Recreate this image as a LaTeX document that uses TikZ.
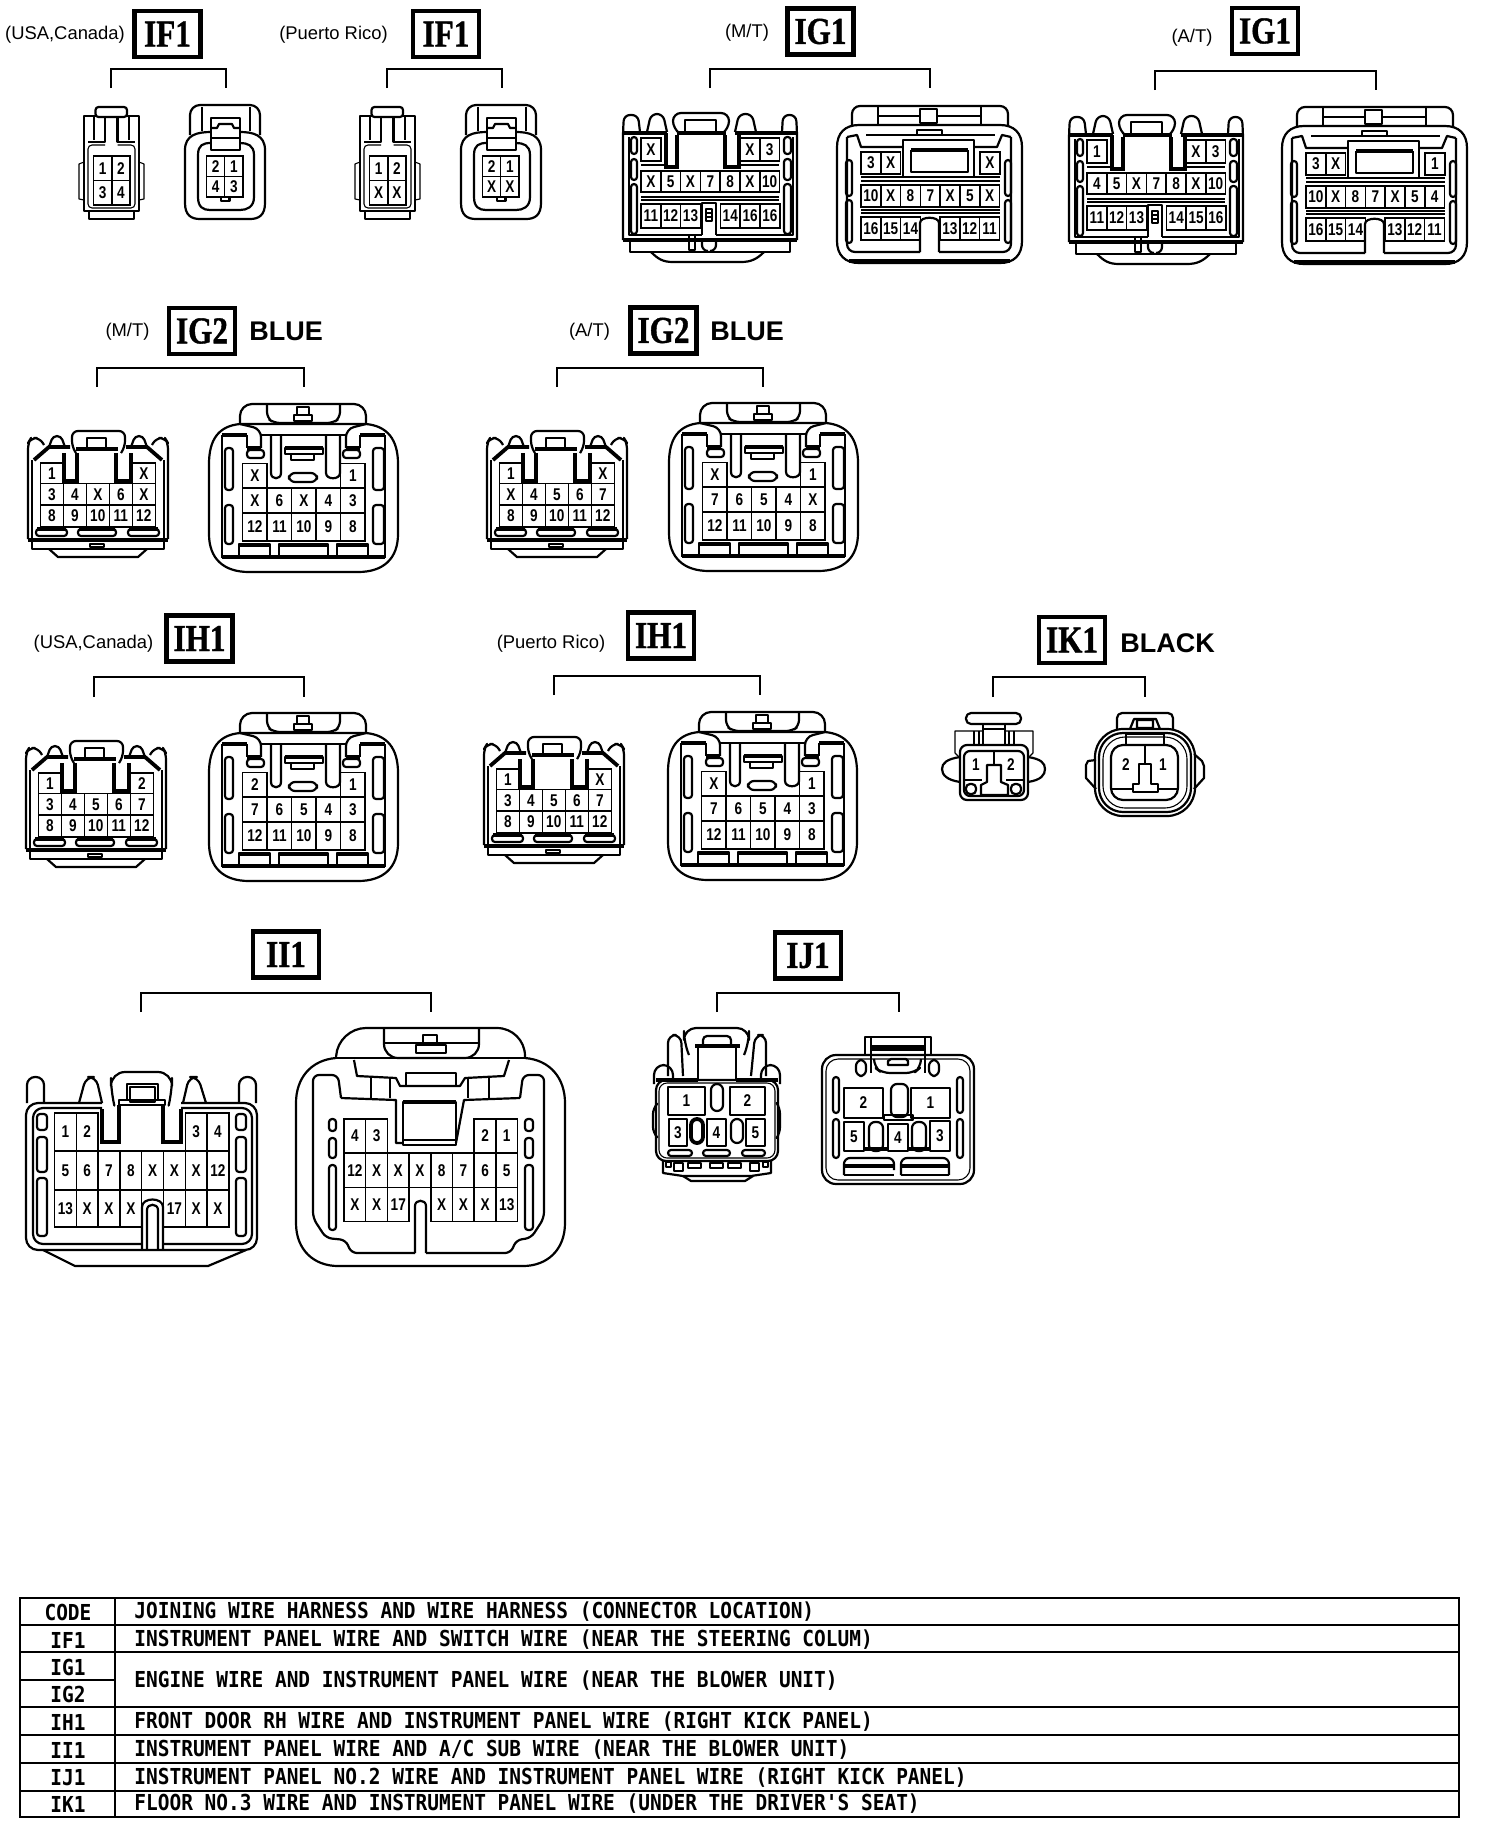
\documentclass[tikz,border=0pt]{standalone}
\usepackage{fontspec}
\setmainfont{Liberation Sans}
\newfontfamily\pinfont[FakeStretch=0.8]{Liberation Sans}
\newfontfamily\codefont[FakeStretch=0.82,FakeBold=1]{Liberation Serif}
\newfontfamily\tabfont[FakeStretch=0.885]{DejaVu Sans Mono}
\newfontfamily\labfont{Liberation Sans}
\tikzset{
 ol/.style={line width=1.1pt,draw=black,line join=round},
 tl/.style={line width=.55pt,draw=black,line join=round},
 hv/.style={line width=1.9pt,draw=black},
 pinline/.style={line width=.75pt,draw=black},
 pintext/.style={inner sep=0pt,font=\pinfont\bfseries\fontsize{8.5}{9}\selectfont},
 codebox/.style={draw=black,line width=2.2pt,minimum width=33pt,minimum height=23pt,inner sep=0pt,
   font=\codefont\bfseries\fontsize{19}{19}\selectfont},
 variant/.style={inner sep=0pt,font=\labfont\fontsize{9.2}{10}\selectfont},
 colour/.style={inner sep=0pt,anchor=west,font=\labfont\bfseries\fontsize{13.5}{14}\selectfont},
 tabtext/.style={inner sep=0pt,font=\tabfont\bfseries\fontsize{11}{12}\selectfont},
 brack/.style={line width=1.1pt,draw=black,line join=miter}
}
\newcount\pinc
\newcommand\pinrow[5]{%
 \foreach \plab [count=\pk from 0] in {#5}{%
  \global\advance\pinc by 1
  \draw[pinline] ({#1+\pk*#3},#2) rectangle ({#1+(\pk+1)*#3},{#2+#4});
  \node[pintext] (pin\the\pinc) at ({#1+(\pk+.5)*#3},{#2+#4/2}) {\plab};
 }}
\newcommand\pincell[5]{% x1 y1 x2 y2 label
  \global\advance\pinc by 1
  \draw[ol] (#1,#2) rectangle (#3,#4);
  \node[pintext] (pin\the\pinc) at ({(#1+#3)/2},{(#2+#4)/2}) {#5};}
\newcommand\pinlbl[3]{%
  \global\advance\pinc by 1
  \node[pintext] (pin\the\pinc) at (#1,#2) {#3};}
\newcommand\slotbox[4]{\draw[ol,rounded corners=1.5pt] (#1,#2) rectangle (#3,#4);}
\newcommand\bracketline[4]{\draw[brack] (#1,#4)--(#1,#2)--(#3,#2)--(#3,#4);}
% ---- IF1 male
\newcommand\connA[4]{\begin{scope}[shift={(#1,#2)}]
 \draw[ol,rounded corners=1.5pt] (16.5,0) rectangle (48,10);
 \draw[ol] (16.5,9)-|(5,104)--(60,104)|-(48,9);
 \draw[ol] (15,9)--(15,33) (50,9)--(50,33);
 \draw[ol] (26,10)--(26,35)--(9,35) (38.5,10)--(38.5,35)--(56,35);
 \draw[tl,rounded corners=2pt] (26,38)-|(9,101)-|(56,38)--(38.5,38);
 \draw[tl] (5,55)--(0,57)--(0,92)--(5,93) (60,55)--(65,57)--(65,92)--(60,93);
 \draw[ol] (10,104)|-(55,112)--(55,104);
 \pinrow{14.6}{49}{18.2}{24.5}{#3}
 \pinrow{14.6}{73.5}{18.2}{24.5}{#4}
\end{scope}}
% ---- IF1 female
\newcommand\connB[4]{\begin{scope}[shift={(#1,#2)}]
 \draw[ol,rounded corners=5pt] (5,30)--(5,0)--(75,0)--(75,30);
 \draw[ol] (17,26)--(17,2) (65,26)--(65,2);
 \draw[ol] (26,27) .. controls (12,27) and (0,30) .. (0,45) -- (0,98) .. controls (0,110) and (6,114) .. (15,114) -- (65,114) .. controls (74,114) and (80,110) .. (80,98) -- (80,45) .. controls (80,30) and (68,27) .. (55,27);
 \draw[ol] (26,38) .. controls (18,38) and (13,40) .. (13,50) -- (13,92) .. controls (13,102) and (18,105) .. (25,105) -- (55,105) .. controls (62,105) and (69,102) .. (69,92) -- (69,50) .. controls (69,40) and (62,38) .. (55,38);
 \draw[ol] (26,13) rectangle (55,45);
 \draw[ol] (26,23)--(32,23)--(34,19)--(47,19)--(49,23)--(55,23);
 \draw[ol] (26,33)--(55,33);
 \pinrow{21.5}{51}{18.2}{20.5}{#3}
 \pinrow{21.5}{71.5}{18.2}{20.5}{#4}
 \draw[ol] (36,92) rectangle (44.5,96);
\end{scope}}
% ---- IG1 male
\newcommand\connC[7]{\begin{scope}[shift={(#1,#2)}]
 \draw[ol,rounded corners=3pt] (0,127)--(0,19)--(1,2)--(15,2)--(17,19);
 \draw[ol,rounded corners=3pt] (24,19)--(28,1)--(40,1)--(44,19);
 \draw[ol,rounded corners=4pt] (56,20)--(50,16)--(50,0)--(106,0)--(106,16)--(100,20);
 \draw[ol] (62,19)--(62,7)--(93,7)--(93,19);
 \draw[hv] (54,20)--(103,20);
 \draw[ol,rounded corners=3pt] (112,19)--(116,1)--(129,1)--(133,19);
 \draw[ol,rounded corners=3pt] (159,19)--(160,2)--(173,2)--(174,19)--(174,127);
 \draw[hv] (0,20)--(44,20) (112,20)--(174,20);
 \draw[ol] (6,24)--(6,122)--(79,122) (93,122)--(170,122)--(170,24);
 \draw[hv] (0,127)--(174,127);
 \slotbox{8}{24}{14}{41}\slotbox{8}{46}{14}{67}\slotbox{8}{71}{14}{121}
 \slotbox{161}{24}{168}{41}\slotbox{161}{46}{168}{67}\slotbox{161}{71}{168}{121}
 \draw[hv] (43,20)--(43,54)--(54,54)--(54,22);
 \draw[hv] (102,22)--(102,54)--(116,54)--(116,20);
 \draw[ol] (79,122)--(79,90)--(93,90)--(93,122);
 \draw[tl] (83,96) rectangle (89,108) (83,100)--(89,100) (83,104)--(89,104);
 \pinrow{18}{25}{19.8}{23}{#3}
 \pinrow{117}{25}{19.8}{23}{#4}
 \pinrow{18}{58}{19.8}{21}{#5}
 \pinrow{18}{91}{19.8}{24}{#6}
 \pinrow{97.4}{91}{19.8}{24}{#7}
 \draw[pinline] (18,52)--(43,52) (117,52)--(156,52) (18,84)--(156,84) (18,87)--(156,87);
 \draw[ol] (7,127)|-(167,139)--(167,127);
 \draw[ol] (28,139) .. controls (35,146) and (40,149) .. (50,149)--(118,149) .. controls (128,149) and (134,146) .. (141,139);
 \draw[ol] (79,127)--(79,132) arc(180:90:6) (93,127)--(93,132) arc(0:90:6);
 \draw[ol] (66,122) rectangle (72,137);
\end{scope}}
% ---- IG1 female
\newcommand\connD[7]{\begin{scope}[shift={(#1,#2)}]
 \draw[ol,rounded corners=4pt] (15,21)--(15,1)--(171,1)--(171,21);
 \draw[ol] (41,2)--(41,20) (144,2)--(144,20) (41,11)--(83,11) (100,11)--(144,11);
 \draw[ol] (83,4) rectangle (100,18);
 \draw[ol] (22,20) .. controls (8,20) and (0,28) .. (0,42) -- (0,136) .. controls (0,150) and (8,158) .. (22,158) -- (163,158) .. controls (177,158) and (185,150) .. (185,136) -- (185,42) .. controls (185,28) and (177,20) .. (163,20) -- cycle;
 \draw[hv] (12,156)--(173,156);
 \draw[ol,rounded corners=4pt] (10,32)--(10,147)--(83,147) (102,147)--(174,147)--(174,32);
 \draw[ol] (10,32)--(20,30)--(24,42)--(66,42) (174,32)--(165,30)--(160,42)--(137,42);
 \draw[ol] (29,30)--(158,30);
 \draw[ol] (66,35)--(66,72)--(137,72)--(137,35)--cycle;
 \draw[hv] (74,45)--(131,45);
 \draw[ol] (74,45)--(74,67)--(131,67)--(131,45);
 \draw[ol] (80,30)--(80,25)--(105,25)--(105,30);
 \slotbox{9}{55}{15}{91}\slotbox{9}{95}{15}{138}
 \slotbox{168}{55}{174}{91}\slotbox{168}{95}{174}{138}
 \pinrow{24}{47}{19.8}{22}{#3}
 \pinrow{143}{47}{19.8}{22}{#4}
 \pinrow{24}{80}{19.8}{22}{#5}
 \pinrow{24}{112}{19.8}{23}{#6}
 \pinrow{103}{112}{19.8}{23}{#7}
 \draw[pinline] (24,72)--(66,72) (137,72)--(163,72) (24,76)--(163,76) (24,105)--(163,105) (24,108)--(163,108);
 \draw[ol] (83,147)--(83,118) .. controls (83,111) and (102,111) .. (102,118) -- (102,147);
\end{scope}}
% ---- IG2/IH1 male
\newcommand\connE[6]{\begin{scope}[shift={(#1,#2)}]
 \draw[ol,rounded corners=3pt] (48,22)--(44,16)--(44,0)--(97,0)--(97,16)--(93,22);
 \draw[ol] (59,17)--(59,7)--(78,7)--(78,17);
 \draw[hv] (48,18)--(90,18);
 \draw[ol,rounded corners=3pt] (0,108)--(0,12)--(3,7)--(12,7)--(16,14);
 \draw[ol,rounded corners=3pt] (140,108)--(140,12)--(137,7)--(128,7)--(124,14);
 \draw[ol,rounded corners=2pt] (21,16)--(25,5)--(33,5)--(37,16);
 \draw[ol,rounded corners=2pt] (103,16)--(107,5)--(115,5)--(119,16);
 \draw[hv] (6,29)--(21,16)--(42,16) (134,29)--(119,16)--(98,16);
 \draw[ol] (4,29)--(4,107) (136,29)--(136,107);
 \draw[hv] (0,109)--(140,109);
 \draw[ol] (4,110)|-(136,118)--(136,110);
 \draw[ol] (21,118)--(30,126)--(110,126)--(119,118);
 \draw[ol] (62,113) rectangle (76,116);
 \draw[hv] (36,22)--(36,50)--(49,50)--(49,22);
 \draw[hv] (88,22)--(88,50)--(103,50)--(103,22);
 \pinrow{12.3}{32}{23}{20.5}{#3}
 \pinrow{104.3}{32}{23}{20.5}{#4}
 \pinrow{12.3}{52.5}{23}{21.5}{#5}
 \pinrow{12.3}{74}{23}{22}{#6}
 \slotbox{8}{98}{39}{105}\slotbox{50}{98}{88}{105}\slotbox{100}{98}{131}{105}
 \draw[hv] (9,98)--(38,98) (51,98)--(87,98) (101,98)--(130,98);
\end{scope}}
% ---- IG2/IH1 female
\newcommand\connF[6]{\begin{scope}[shift={(#1,#2)}]
 \draw[ol,rounded corners=6pt] (31,20)--(31,0)--(157,0)--(157,20);
 \draw[ol,rounded corners=3pt] (58,1)--(58,14)--(65,19)--(124,19)--(131,14)--(131,1);
 \draw[ol] (88,3) rectangle (100,11);
 \draw[ol] (85,11) rectangle (103,17);
 \draw[ol] (31,20) .. controls (10,22) and (0,35) .. (0,60) -- (0,130) .. controls (0,155) and (15,168) .. (40,168) -- (149,168) .. controls (174,168) and (189,155) .. (189,130) -- (189,60) .. controls (189,35) and (178,22) .. (157,20) -- cycle;
 \draw[hv] (13,31)--(38,31) (151,31)--(176,31);
 \draw[ol] (13,31)--(13,154) (176,31)--(176,154);
 \draw[hv] (13,153)--(176,153);
 \draw[ol,rounded corners=4pt] (31,20)--(52,25)--(52,44);
 \draw[ol,rounded corners=4pt] (157,20)--(137,25)--(137,44);
 \draw[ol] (38,31)--(38,44) (151,31)--(151,44) (52,31)--(137,31);
 \draw[hv] (38,44)--(52,44) (137,44)--(151,44);
 \slotbox{38}{46}{55}{54}\slotbox{134}{46}{151}{54}
 \draw[ol] (62,32)--(62,69) .. controls (62,76) and (72,76) .. (72,69) -- (72,32);
 \draw[ol] (117,32)--(117,69) .. controls (117,76) and (131,76) .. (131,69) -- (131,32);
 \draw[ol] (76,44) rectangle (114,50);
 \draw[hv] (76,44)--(114,44);
 \draw[ol] (82,50) rectangle (105,56);
 \draw[ol,rounded corners=3pt] (80,69) rectangle (108,78);
 \slotbox{16}{44}{24}{86}\slotbox{16}{101}{24}{140}
 \slotbox{164}{44}{175}{86}\slotbox{164}{101}{175}{140}
 \pinrow{33.7}{59.3}{24.5}{24.7}{#3}
 \pinrow{131.7}{59.3}{24.5}{24.7}{#4}
 \pinrow{33.7}{84}{24.5}{25}{#5}
 \pinrow{33.7}{109}{24.5}{28}{#6}
 \draw[ol] (30,153)--(30,140)--(61,140)--(61,153) (70,153)--(70,140)--(119,140)--(119,153) (128,153)--(128,140)--(159,140)--(159,153);
 \draw[hv] (30,141)--(61,141) (70,141)--(119,141) (128,141)--(159,141);
\end{scope}}
% ---- IK1 male
\newcommand\connG[2]{\begin{scope}[shift={(#1,#2)}]
 \draw[ol,rounded corners=2.5pt] (24,0) rectangle (79,11);
 \draw[ol] (41,11)--(41,32) (63,11)--(63,32) (41,16)--(63,16);
 \draw[tl] (18,45)--(13,40)--(13,18)--(41,18) (63,18)--(91,18)--(91,40)--(86,45);
 \draw[tl] (32,18)--(32,32) (37,18)--(37,32) (67,18)--(67,32) (72,18)--(72,32);
 \draw[ol,rounded corners=3.5pt] (18,32) rectangle (86,87);
 \draw[ol,rounded corners=3pt] (22,38) rectangle (82,83);
 \draw[ol] (18,44) .. controls (5,46) and (0,50) .. (0,56) .. controls (0,62) and (5,67) .. (18,69);
 \draw[ol] (86,44) .. controls (99,46) and (103,50) .. (103,56) .. controls (103,62) and (99,67) .. (86,69);
 \draw[ol] (52,38)--(52,52);
 \draw[ol] (22,67)--(40,67) (64,67)--(82,67);
 \draw[ol] (45,52)--(59,52)--(59,69)--(66,72)--(66,82)--(39,82)--(39,72)--(45,69)--cycle;
 \draw[ol,rounded corners=2pt] (24,71) rectangle (34,81);
 \draw[ol,rounded corners=2pt] (69,71) rectangle (79,81);
 \pinlbl{34}{52}{1}\pinlbl{69}{52}{2}
\end{scope}}
% ---- IK1 female
\newcommand\connH[2]{\begin{scope}[shift={(#1,#2)}]
 \draw[ol,rounded corners=2.5pt] (31,16)--(31,0)--(87,0)--(87,16);
 \draw[ol] (44,16)--(48,6)--(70,6)--(74,16) (51,7) rectangle (67,15);
 \draw[ol,rounded corners=14pt] (9,16) rectangle (109,103);
 \draw[ol,rounded corners=12pt] (13,20) rectangle (105,99);
 \draw[tl,rounded corners=11pt] (17,24) rectangle (101,95);
 \draw[ol,rounded corners=6pt] (25,32) rectangle (92,87);
 \draw[ol] (10,47)--(2,48)--(0,52)--(0,65)--(10,76);
 \draw[ol] (108,41)--(116,48)--(118,53)--(118,65)--(108,76);
 \draw[ol] (40,21) rectangle (78,32);
 \draw[ol] (59,32)--(59,51);
 \draw[ol] (53,51)--(65,51)--(65,71)--(72,71)--(72,79)--(47,79)--(47,71)--(53,71)--cycle;
 \draw[ol] (25,76)--(47,76) (72,76)--(92,76);
 \pinlbl{40}{52}{2}\pinlbl{77}{52}{1}
\end{scope}}
% ---- II1 male
\newcommand\connI[2]{\begin{scope}[shift={(#1,#2)}]
 \draw[ol,rounded corners=4pt] (1,31)--(1,5)--(18,5)--(18,31);
 \draw[ol,rounded corners=4pt] (53,31)--(60,5)--(70,5)--(76,31);
 \draw[ol,rounded corners=7pt] (88,32)--(85,20)--(85,0)--(146,0)--(146,20)--(143,32);
 \draw[ol] (101,28)--(101,12)--(132,12)--(132,28);
 \draw[ol] (104,15) rectangle (129,30);
 \draw[ol] (93,28) rectangle (139,33);
 \draw[ol,rounded corners=4pt] (157,31)--(163,5)--(172,5)--(180,31);
 \draw[ol,rounded corners=4pt] (213,31)--(213,5)--(230,5)--(230,31);
 \draw[ol,rounded corners=6pt] (76,31)--(0,31)--(0,178)--(231,178)--(231,31)--(155,31);
 \draw[ol,rounded corners=5pt] (76,36)--(7,36)--(7,172)--(116,172);
 \draw[ol,rounded corners=5pt] (155,36)--(226,36)--(226,172)--(137,172);
 \draw[hv] (76,37)--(76,70)--(93,70)--(93,33);
 \draw[hv] (137,33)--(137,70)--(155,70)--(155,37);
 \slotbox{11}{42}{21}{58}\slotbox{11}{65}{21}{100}\slotbox{11}{106}{21}{164}
 \slotbox{210}{42}{220}{58}\slotbox{210}{65}{220}{100}\slotbox{210}{106}{220}{164}
 \pinrow{28.5}{41}{21.8}{38}{1,2}
 \pinrow{159.3}{41}{21.8}{38}{3,4}
 \pinrow{28.5}{79}{21.8}{39}{5,6,7,8,X,X,X,12}
 \pinrow{28.5}{118}{21.8}{37}{13,X,X,X}
 \pinrow{137.5}{118}{21.8}{37}{17,X,X}
 \draw[ol] (116,178)--(116,135) .. controls (116,125) and (137,125) .. (137,135) -- (137,178);
 \draw[ol] (121,178)--(121,138) .. controls (121,131) and (132,131) .. (132,138) -- (132,178);
 \draw[ol] (17,178)--(49,194)--(182,194)--(220,178);
\end{scope}}
% ---- II1 female
\newcommand\connJ[2]{\begin{scope}[shift={(#1,#2)}]
 \draw[ol,rounded corners=14pt] (40,30)--(42,0)--(229,0)--(229,30);
 \draw[ol,rounded corners=7pt] (88,1)--(88,30)--(183,30)--(183,1);
 \draw[ol] (88,15)--(183,15);
 \draw[ol] (127,7) rectangle (141,17);
 \draw[ol] (120,17) rectangle (150,25);
 \draw[ol] (40,30) .. controls (15,32) and (0,50) .. (0,75) -- (0,195) .. controls (0,222) and (18,238) .. (42,238) -- (227,238) .. controls (251,238) and (269,222) .. (269,195) -- (269,75) .. controls (269,50) and (254,32) .. (229,30);
 \draw[ol] (58,32)--(61,48)--(100,50)--(104,58)--(164,58)--(169,50)--(208,48)--(213,32);
 \draw[ol] (40,30)--(229,30);
 \draw[ol] (110,58)--(110,45)--(160,45)--(160,58);
 \draw[ol,rounded corners=3pt] (45,70)--(42,47)--(17,47)--(17,190)--(30,210)--(50,212)--(55,225)--(119,225);
 \draw[ol,rounded corners=3pt] (224,70)--(227,47)--(248,47)--(248,190)--(235,210)--(220,212)--(215,225)--(130,225);
 \draw[ol] (45,70)--(100,72)--(100,115)--(107,115) (224,70)--(168,72)--(160,115);
 \draw[hv] (107,74)--(160,74);
 \draw[ol] (107,74) rectangle (160,117);
 \draw[ol] (107,112)--(160,112);
 \draw[tl] (75,50)--(75,70) (94,50)--(94,70) (172,50)--(172,70) (193,50)--(193,70);
 \slotbox{33}{91}{40}{103}\slotbox{33}{110}{40}{130}\slotbox{33}{137}{40}{202}
 \slotbox{229}{91}{237}{103}\slotbox{229}{110}{237}{130}\slotbox{229}{137}{237}{202}
 \pinrow{48}{91}{21.7}{34}{4,3}
 \pinrow{178.2}{91}{21.7}{34}{2,1}
 \pinrow{48}{125}{21.7}{34.5}{12,X,X,X,8,7,6,5}
 \pinrow{48}{159.5}{21.7}{34}{X,X,17}
 \pinrow{134.8}{159.5}{21.7}{34}{X,X,X,13}
 \draw[ol] (119,225)--(119,178) .. controls (119,171) and (130,171) .. (130,178) -- (130,225);
\end{scope}}
% ---- IJ1 male
\newcommand\connK[2]{\begin{scope}[shift={(#1,#2)}]
 \draw[ol,rounded corners=6pt] (36,27)--(31,15)--(31,0)--(96,0)--(96,15)--(91,27);
 \draw[ol,rounded corners=2pt] (50,18)--(50,8)--(78,8)--(78,18);
 \draw[hv] (42,18)--(87,18);
 \draw[ol] (45,18)--(45,52) (83,18)--(83,52);
 \draw[ol,rounded corners=4pt] (15,48)--(15,7)--(28,7)--(30,48);
 \draw[ol,rounded corners=4pt] (98,48)--(102,7)--(113,7)--(113,48);
 \draw[ol,rounded corners=5pt] (20,50)--(20,37)--(1,37)--(1,56);
 \draw[ol,rounded corners=5pt] (108,50)--(108,37)--(127,37)--(127,56);
 \draw[hv] (3,52)--(45,52) (83,52)--(125,52);
 \draw[ol,rounded corners=5pt] (3,52) rectangle (125,133);
 \draw[tl,rounded corners=4pt] (6,55) rectangle (122,130);
 \draw[ol,rounded corners=3pt] (3,77)--(0,80)--(0,105)--(3,108) (125,77)--(127,80)--(127,105)--(125,108);
 \pincell{15}{59}{52}{87}{1}\pincell{77}{59}{112}{87}{2}
 \draw[ol,rounded corners=3pt] (58,56) rectangle (70,83);
 \pincell{16}{91}{34}{118}{3}\pincell{54}{91}{73}{118}{4}\pincell{93}{91}{112}{118}{5}
 \draw[hv,rounded corners=3pt] (38,91) rectangle (50,115);
 \draw[ol,rounded corners=3pt] (78,91) rectangle (90,115);
 \slotbox{15}{122}{39}{128}\slotbox{50}{122}{77}{128}\slotbox{89}{122}{112}{128}
 \draw[ol] (10,133)--(10,145)--(30,148)--(30,148)--(98,148)--(118,145)--(118,133);
 \draw[ol] (30,148)--(38,153)--(92,153)--(100,148);
 \draw[ol] (13,134) rectangle (18,139) (21,135) rectangle (30,143) (35,135) rectangle (48,140) (57,135) rectangle (70,140) (75,135) rectangle (88,140) (97,135) rectangle (106,143) (110,134) rectangle (115,139);
\end{scope}}
% ---- IJ1 female
\newcommand\connL[2]{\begin{scope}[shift={(#1,#2)}]
 \draw[ol,rounded corners=7pt] (0,147)--(0,18)--(152,18)--(152,147)--cycle;
 \draw[tl,rounded corners=6pt] (4,22) rectangle (148,143);
 \draw[ol] (43,18)--(43,0)--(109,0)--(109,18);
 \draw[ol] (49,0)--(49,36) (103,0)--(103,36);
 \draw[hv] (49,10)--(103,10);
 \draw[ol] (49,13)--(103,13);
 \draw[ol,rounded corners=4pt] (52,22)--(52,30)--(60,36)--(92,36)--(99,30)--(99,22);
 \draw[ol] (66,24)--(69,22)--(84,22)--(86,24)--(86,28)--(66,28)--cycle;
 \draw[ol,rounded corners=3pt] (34,23) rectangle (44,39);
 \draw[ol,rounded corners=3pt] (107,23) rectangle (117,39);
 \pincell{22}{51}{61}{81}{2}\pincell{89}{51}{128}{81}{1}
 \draw[ol,rounded corners=3pt] (69,47) rectangle (86,80);
 \draw[ol] (62,78) rectangle (91,83);
 \pincell{22}{85}{42}{114}{5}\pincell{66}{87}{86}{114}{4}\pincell{108}{84}{128}{114}{3}
 \draw[ol,rounded corners=3pt] (47,85)--(47,114)--(61,114)--(61,85)--cycle;
 \draw[ol,rounded corners=3pt] (90,85)--(90,114)--(104,114)--(104,85)--cycle;
 \draw[hv] (42,112)--(66,112) (86,112)--(108,112);
 \slotbox{11}{40}{17}{76}\slotbox{11}{82}{17}{121}
 \slotbox{135}{40}{141}{76}\slotbox{135}{82}{141}{121}
 \draw[ol,rounded corners=3pt] (22,138)--(22,121)--(72,121)--(72,133) (79,138)--(79,121)--(127,121)--(127,138);
 \draw[hv] (23,129)--(71,129) (80,129)--(126,129);
 \draw[ol] (22,138)--(72,138) (79,138)--(127,138);
\end{scope}}
\begin{document}
\begin{tikzpicture}[x=.5pt,y=-.5pt]
\path[use as bounding box,fill=white] (0,0) rectangle (1488,1826);
% ---------- IF1
\node[variant] (vusa) at (65,35) {(USA,Canada)};
\node[codebox] (if1a) at (167.5,34) {IF1};
\bracketline{111}{69}{226}{88}
\connA{79}{107}{1,2}{3,4}
\connB{185}{105}{2,1}{4,3}
\node[variant] (vpr) at (333.5,35) {(Puerto Rico)};
\node[codebox] (if1b) at (446,34) {IF1};
\bracketline{387}{69}{502}{88}
\connA{355}{107}{1,2}{X,X}
\connB{461}{105}{2,1}{X,X}
% ---------- IG1
\node[variant] (vmt1) at (747,33) {(M/T)};
\node[codebox] (ig1a) at (820.5,31.5) {IG1};
\bracketline{710}{69}{930}{88}
\connC{623}{113}{X}{X,3}{X,5,X,7,8,X,10}{11,12,13}{14,16,16}
\connD{837}{105}{3,X}{X}{10,X,8,7,X,5,X}{16,15,14}{13,12,11}
\node[variant] (vat1) at (1192,38) {(A/T)};
\node[codebox] (ig1b) at (1265,31) {IG1};
\bracketline{1155}{71}{1376}{90}
\connC{1069}{115}{1}{X,3}{4,5,X,7,8,X,10}{11,12,13}{14,15,16}
\connD{1282}{106}{3,X}{1}{10,X,8,7,X,5,4}{16,15,14}{13,12,11}
% ---------- IG2
\node[variant] (vmt2) at (127.5,332) {(M/T)};
\node[codebox] (ig2a) at (202,331) {IG2};
\node[colour] (blue1) at (249,331.5) {BLUE};
\bracketline{97}{368}{304}{387}
\connE{28}{431}{1}{X}{3,4,X,6,X}{8,9,10,11,12}
\connF{209}{404}{X}{1}{X,6,X,4,3}{12,11,10,9,8}
\node[variant] (vat2) at (589.5,332) {(A/T)};
\node[codebox] (ig2b) at (663.5,330.5) {IG2};
\node[colour] (blue2) at (710,331.5) {BLUE};
\bracketline{557}{368}{763}{387}
\connE{487}{431}{1}{X}{X,4,5,6,7}{8,9,10,11,12}
\connF{669}{403}{X}{1}{7,6,5,4,X}{12,11,10,9,8}
% ---------- IH1
\node[variant] (vusa2) at (93.5,644) {(USA,Canada)};
\node[codebox] (ih1a) at (199.5,638.5) {IH1};
\bracketline{94}{677}{304}{697}
\connE{26}{741}{1}{2}{3,4,5,6,7}{8,9,10,11,12}
\connF{209}{713}{2}{1}{7,6,5,4,3}{12,11,10,9,8}
\node[variant] (vpr2) at (551,644) {(Puerto Rico)};
\node[codebox] (ih1b) at (661,635.5) {IH1};
\bracketline{554}{676}{760}{695}
\connE{484}{737}{1}{X}{3,4,5,6,7}{8,9,10,11,12}
\connF{668}{712}{X}{1}{7,6,5,4,3}{12,11,10,9,8}
% ---------- IK1
\node[codebox] (ik1) at (1072,640) {IK1};
\node[colour] (black1) at (1120,643) {BLACK};
\bracketline{993}{677}{1145}{697}
\connG{942}{713}
\connH{1086}{713}
% ---------- II1
\node[codebox] (ii1) at (286,954.5) {II1};
\bracketline{141}{993}{431}{1012}
\connI{26}{1072}
\connJ{296}{1028}
% ---------- IJ1
\node[codebox] (ij1) at (808,955.5) {IJ1};
\bracketline{717}{993}{899}{1012}
\connK{653}{1028}
\connL{822}{1037}
% ---------- table
\draw[line width=1.2pt] (20,1598) rectangle (1459,1817);
\draw[line width=1.2pt] (115,1598)--(115,1817);
\foreach \ry in {1625,1652,1707,1735,1763,1791}{\draw[line width=1.2pt] (20,\ry)--(1459,\ry);}
\draw[line width=.8pt] (20,1680)--(115,1680);
\node[tabtext] (c0) at (68,1612) {CODE};
\node[tabtext] (c1) at (68,1640) {IF1};
\node[tabtext] (c2) at (68,1667) {IG1};
\node[tabtext] (c3) at (68,1694) {IG2};
\node[tabtext] (c4) at (68,1722) {IH1};
\node[tabtext] (c5) at (68,1750) {II1};
\node[tabtext] (c6) at (68,1778) {IJ1};
\node[tabtext] (c7) at (68,1804) {IK1};
\tikzset{tabtext/.append style={anchor=west}}
\node[tabtext] (t0) at (134,1612) {JOINING WIRE HARNESS AND WIRE HARNESS (CONNECTOR LOCATION)};
\node[tabtext] (t1) at (134,1640) {INSTRUMENT PANEL WIRE AND SWITCH WIRE (NEAR THE STEERING COLUM)};
\node[tabtext] (t2) at (134,1681) {ENGINE WIRE AND INSTRUMENT PANEL WIRE (NEAR THE BLOWER UNIT)};
\node[tabtext] (t3) at (134,1722) {FRONT DOOR RH WIRE AND INSTRUMENT PANEL WIRE (RIGHT KICK PANEL)};
\node[tabtext] (t4) at (134,1750) {INSTRUMENT PANEL WIRE AND A/C SUB WIRE (NEAR THE BLOWER UNIT)};
\node[tabtext] (t5) at (134,1778) {INSTRUMENT PANEL NO.2 WIRE AND INSTRUMENT PANEL WIRE (RIGHT KICK PANEL)};
\node[tabtext] (t6) at (134,1804) {FLOOR NO.3 WIRE AND INSTRUMENT PANEL WIRE (UNDER THE DRIVER'S SEAT)};
\end{tikzpicture}
\end{document}
